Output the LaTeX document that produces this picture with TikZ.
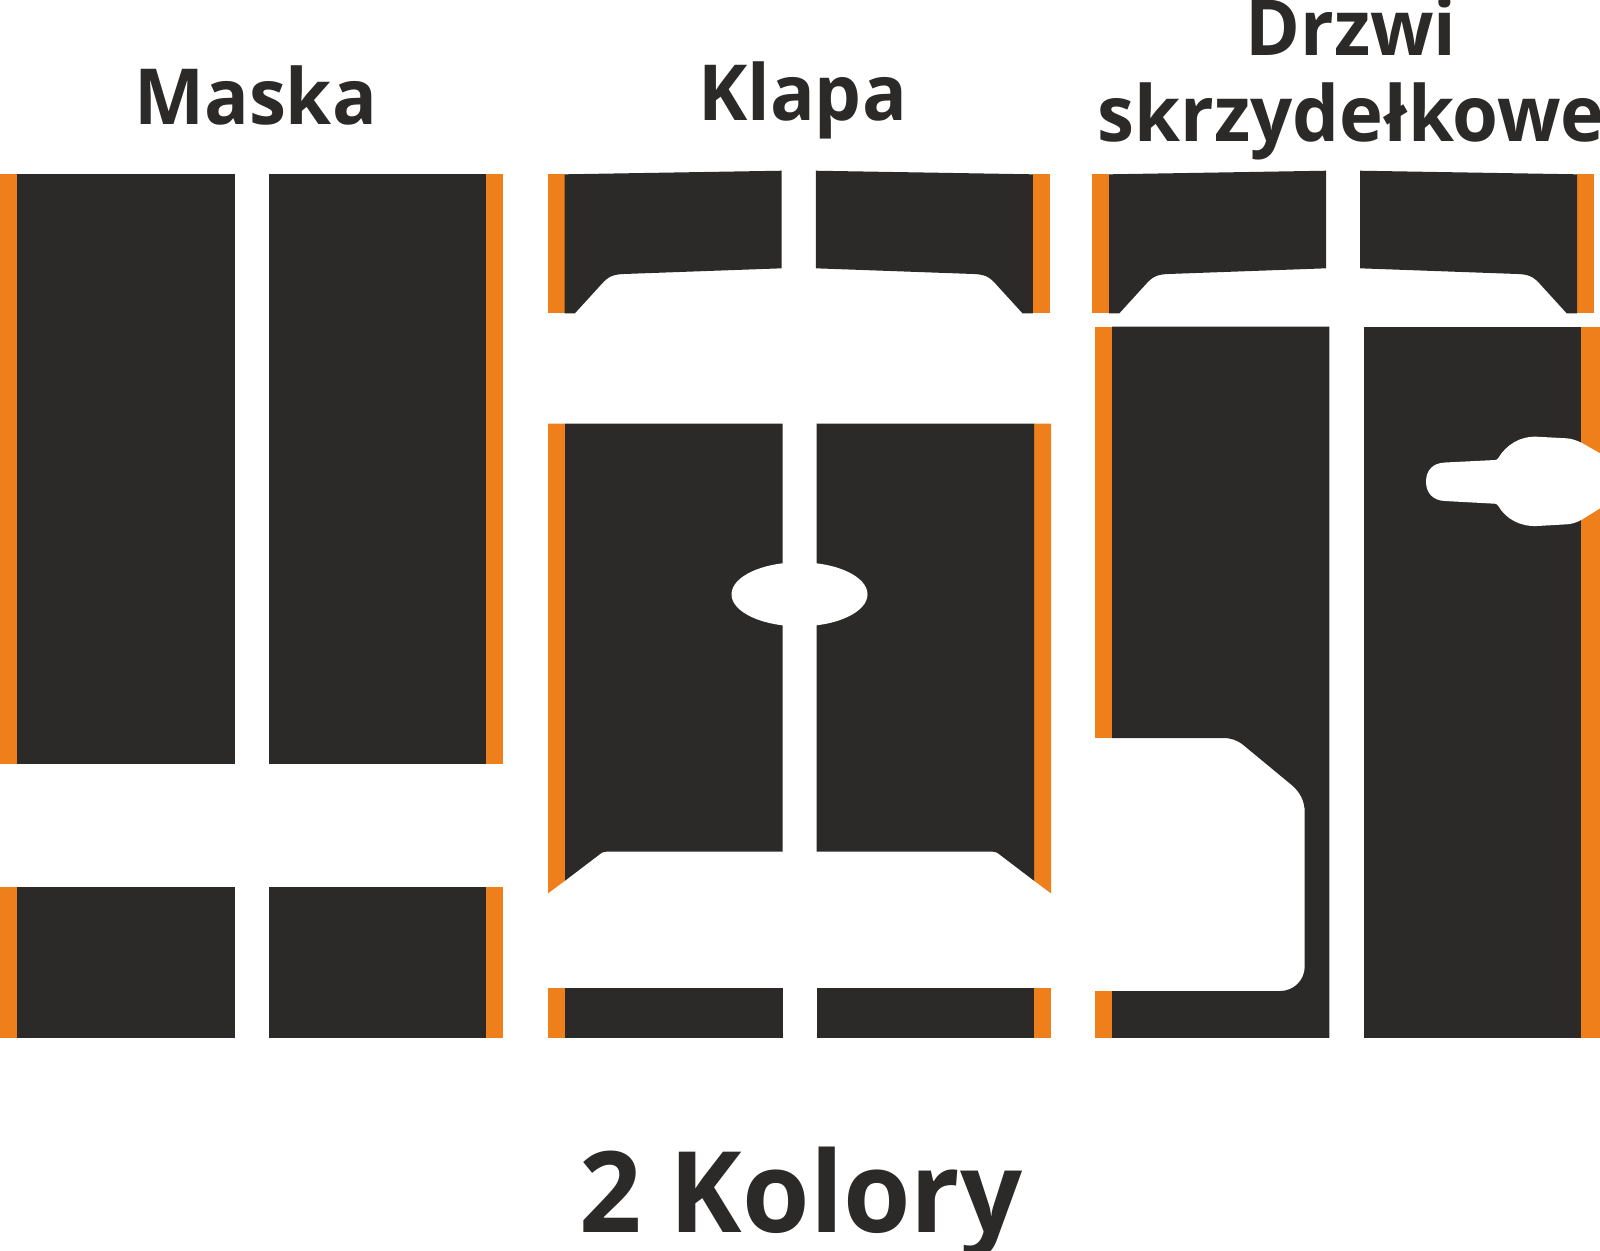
\documentclass[tikz,border=0pt]{standalone}
\usepackage{fontspec}
\setmainfont{Open Sans}[FakeStretch=0.96]
\newfontfamily\footerfont{Open Sans}[FakeStretch=0.97]
\definecolor{panelgrey}{HTML}{2B2A29}
\definecolor{trimorange}{HTML}{EF7F1A}
\begin{document}
\begin{tikzpicture}[x=0.01cm, y=-0.01cm,
        panel/.style={fill=panelgrey},
        trim/.style={fill=trimorange},
        cutout/.style={fill=white},
        heading/.style={text=panelgrey, inner sep=0pt, font=\bfseries\fontsize{22pt}{24.4pt}\selectfont}]
    \useasboundingbox (0, 0) rectangle (1600, 1250);

    % Maska
    \foreach \ytop/\ybot in {174/764, 887/1038} {
        \fill[trim] (0, \ytop) rectangle (17, \ybot);
        \fill[panel] (17, \ytop) rectangle (235, \ybot);
        \fill[panel] (269, \ytop) rectangle (486, \ybot);
        \fill[trim] (486, \ytop) rectangle (503, \ybot);
    }

    % upper panels of Klapa and Drzwi
    \foreach \dx/\sx in {0/1, 2686/-1, -544.4/1, 2141.8/-1} {
        \begin{scope}[shift={(\dx, 0)}, xscale=\sx]
            \fill[trim] (1092, 174.3) rectangle (1109, 313.3);
            \fill[panel] (1109, 174.3) -- (1326, 170.7) -- (1326, 268.3) -- (1168, 274)
                .. controls (1158, 274.5) and (1153, 276) .. (1146, 284)
                -- (1119.3, 313.3) -- (1109, 313.3) -- cycle;
        \end{scope}
    }

    % Klapa
    \foreach \dx/\sx in {0/1, 1599/-1} {
        \begin{scope}[shift={(\dx, 0)}, xscale=\sx]
            \fill[trim] (548, 423.5) -- (565, 423.5) -- (565, 880.7) -- (548, 893.3) -- cycle;
            \fill[panel] (565, 423.5) -- (782.5, 423.5) -- (782.5, 851.7) -- (606, 851.7)
                .. controls (604, 851.7) and (602.5, 852.2) .. (601, 853.3) -- (565, 880.7) -- cycle;
            \fill[trim] (548, 987.8) rectangle (565, 1037.8);
            \fill[panel] (565, 987.8) rectangle (782.5, 1037.8);
        \end{scope}
    }
    \fill[cutout] (799.5, 594.3) ellipse (68 and 32);

    % Drzwi
    \fill[trim] (1095, 326.7) rectangle (1112, 738);
    \fill[trim] (1095, 991) rectangle (1112, 1037.8);
    \fill[panel] (1112, 326.7) -- (1329.3, 326.7) -- (1329.3, 1037.8) -- (1112, 1037.8)
        -- (1112, 991) -- (1280, 991)
        .. controls (1294, 991) and (1304.7, 980) .. (1304.7, 966.7)
        -- (1304.7, 812)
        .. controls (1304.7, 801) and (1300, 792) .. (1291.7, 785)
        -- (1243.3, 745)
        .. controls (1237, 740) and (1231, 738) .. (1223.3, 738)
        -- (1112, 738) -- cycle;
    \fill[panel] (1364, 326.7) rectangle (1581.3, 1037.8);
    \fill[trim] (1581.3, 326.7) rectangle (1600, 1037.8);
    \fill[cutout] (1600, 453.3) -- (1582, 443)
        .. controls (1576, 440) and (1571, 438.6) .. (1566.7, 438.3)
        -- (1536.7, 436.7)
        .. controls (1520, 436) and (1506, 445) .. (1498.3, 458)
        .. controls (1497.5, 459.3) and (1496.5, 460) .. (1495, 460)
        -- (1445, 462.5)
        .. controls (1433, 463) and (1426, 470) .. (1426, 481.7)
        .. controls (1426, 493) and (1433, 500.5) .. (1445, 501)
        -- (1495, 503.7)
        .. controls (1496.5, 503.8) and (1497.5, 504.7) .. (1498.3, 506)
        .. controls (1506, 519) and (1520, 526.6) .. (1536.7, 526)
        -- (1566.7, 524.3)
        .. controls (1571, 524) and (1576, 523) .. (1582, 519.5)
        -- (1600, 508.3) -- cycle;

    \node[heading, anchor=base] (maska) at (255.5, 124.5) {Maska};
    \node[heading, anchor=base] (klapa) at (802.5, 120.5) {Klapa};
    \node[heading, anchor=center, align=center] (drzwi) at (1351, 78) {Drzwi\\skrzydełkowe};
    \node[heading, anchor=base, font=\footerfont\bfseries\fontsize{32pt}{34pt}\selectfont] (kolory) at (801, 1232) {2 Kolory};
\end{tikzpicture}
\end{document}
